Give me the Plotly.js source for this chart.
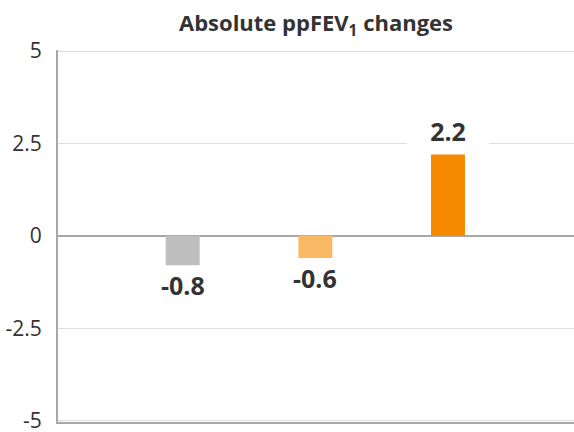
<!DOCTYPE html>
<html>
<head>
<meta charset="utf-8">
<script src="https://cdn.plot.ly/plotly-3.0.1.min.js"></script>
<style>html,body{margin:0;padding:0;background:#fff;}#chart{width:574px;height:432px;}</style>
</head>
<body>
<div id="chart"></div>
<script>
const categories = ["A", "B", "C"];
const values = [-0.8, -0.6, 2.2];
const labels = ["-0.8", "-0.6", "2.2"];
const barColors = ["#BEBEBE", "#F9B864", "#F58A00"];
const yTicks = [-5, -2.5, 0, 2.5, 5];
const yTickLabels = ["-5", "-2.5", "0", "2.5", "5"];

const trace = {
  type: "bar",
  x: [0, 1, 2],
  y: values,
  width: 0.256,
  marker: {color: barColors},
  hoverinfo: "none"
};

const annotations = values.map((v, i) => ({
  x: i, y: v, xref: "x", yref: "y",
  text: "<b>" + labels[i] + "</b>",
  showarrow: false,
  font: {family: "Open Sans", size: 25, color: "#333333"},
  yshift: v >= 0 ? 24 : -20,
  bgcolor: v >= 0 ? "#ffffff" : "rgba(0,0,0,0)",
  width: v >= 0 ? 80 : null,
  height: v >= 0 ? 34 : null
}));

const layout = {
  width: 574, height: 432,
  margin: {l: 58, r: 0, t: 50, b: 10},
  paper_bgcolor: "#ffffff", plot_bgcolor: "#ffffff",
  showlegend: false,
  title: {
    text: "<b>Absolute ppFEV<sub>1</sub> changes</b>",
    font: {family: "Open Sans", size: 22, color: "#333333"},
    xref: "paper", x: 0.5, xanchor: "center",
    yref: "container", y: 0.945, yanchor: "middle"
  },
  xaxis: {
    range: [-0.94, 2.95], showticklabels: false, showgrid: false, zeroline: false,
    showline: true, linecolor: "#A8A8A8", linewidth: 2, ticks: "", fixedrange: true
  },
  yaxis: {
    range: [-5.04, 5.03], tickvals: yTicks, ticktext: yTickLabels,
    showgrid: true, gridcolor: "#DDDDDD", gridwidth: 1,
    zeroline: true, zerolinecolor: "#A8A8A8", zerolinewidth: 2,
    showline: true, linecolor: "#A8A8A8", linewidth: 2,
    ticks: "", ticklabelstandoff: 10, ticklabeloverflow: "allow",
    tickfont: {family: "Open Sans", size: 21, color: "#333333"}
  },
  annotations: annotations
};

Plotly.newPlot("chart", [trace], layout, {staticPlot: true, displayModeBar: false});
</script>
</body>
</html>
